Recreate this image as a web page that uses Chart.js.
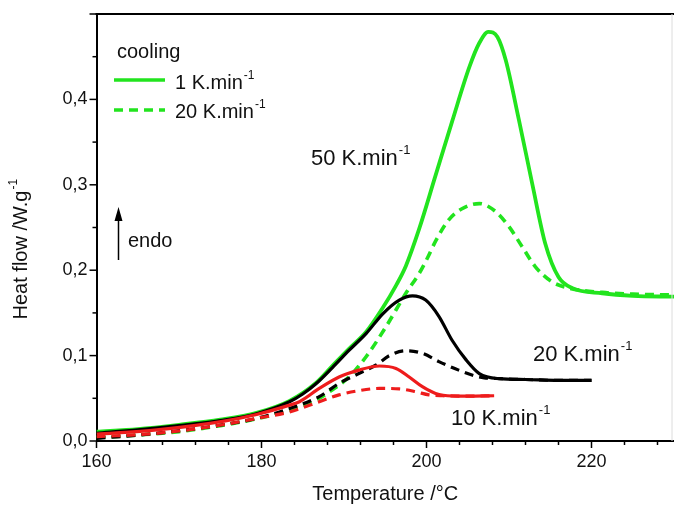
<!DOCTYPE html>
<html>
<head>
<meta charset="utf-8">
<script src="https://cdn.jsdelivr.net/npm/chart.js@4.4.0/dist/chart.umd.min.js"></script>
<style>
  html, body { margin: 0; padding: 0; background: #fff; }
  #dsc-chart { display: block; }
</style>
</head>
<body>
<canvas id="dsc-chart" width="674" height="506"></canvas>
<script>
const FONT = "'Liberation Sans', Arial, sans-serif";
const GREEN = "#22e41e";
const RED = "#ee1c1c";
const BLACK = "#000";

// 50 K/min heating (green), after 1 K/min cooling (solid) and 20 K/min cooling (dashed)
const tempGreenSolid = [160, 165, 170, 175, 179.4, 183.4, 186.6, 188.6, 190.6, 192.7, 194.7, 196.3, 197.5, 199.1, 201.1, 203.1, 205.2, 206.4, 207.5, 208.6, 209.6, 211.2, 212.8, 214.4, 216.0, 217.7, 221.3, 225, 230];
const heatGreenSolid = [0.011, 0.014, 0.019, 0.025, 0.033, 0.047, 0.068, 0.088, 0.108, 0.128, 0.156, 0.182, 0.205, 0.248, 0.311, 0.374, 0.438, 0.466, 0.479, 0.473, 0.446, 0.376, 0.302, 0.231, 0.192, 0.179, 0.173, 0.170, 0.169];

const tempGreenDashed = [160, 165, 170, 175, 179.4, 183.4, 186.6, 188.6, 190.6, 192.7, 195.1, 197.5, 199.1, 200.1, 201.1, 202.7, 204.3, 206.4, 208.4, 210.0, 211.6, 213.2, 215.2, 217.3, 221.3, 225, 230];
const heatGreenDashed = [0.004, 0.007, 0.011, 0.018, 0.026, 0.036, 0.048, 0.060, 0.075, 0.099, 0.134, 0.173, 0.196, 0.214, 0.234, 0.259, 0.272, 0.278, 0.2685, 0.251, 0.2275, 0.204, 0.1865, 0.179, 0.174, 0.172, 0.171];

// 20 K/min heating (black)
const tempBlackSolid = [160, 165, 170, 175, 179.4, 183.4, 185, 186.6, 188.6, 190.6, 192.7, 194.7, 196.7, 198.3, 199.9, 201.5, 203.1, 204.8, 206.4, 208.8, 212, 216, 220];
const heatBlackSolid = [0.009, 0.013, 0.018, 0.024, 0.032, 0.046, 0.055, 0.067, 0.086, 0.106, 0.126, 0.149, 0.165, 0.170, 0.165, 0.146, 0.118, 0.095, 0.079, 0.073, 0.072, 0.071, 0.071];

const tempBlackDashed = [160, 167.3, 175.3, 179.4, 183.4, 187.0, 189.4, 191.8, 193.9, 195.5, 197.5, 199.5, 201.5, 203.9, 205.6, 207, 209, 212, 216, 220];
const heatBlackDashed = [0.003, 0.009, 0.019, 0.0265, 0.038, 0.052, 0.0675, 0.079, 0.089, 0.100, 0.1057, 0.1027, 0.093, 0.083, 0.077, 0.074, 0.073, 0.072, 0.071, 0.071];

// 10 K/min heating (red)
const tempRedSolid = [160, 167.3, 175.3, 179.4, 183.4, 184.6, 187.0, 189.4, 191.8, 194.3, 196.3, 197.9, 199.5, 201.1, 203.1, 205, 208.2];
const heatRedSolid = [0.008, 0.013, 0.023, 0.031, 0.042, 0.046, 0.0616, 0.075, 0.083, 0.0878, 0.085, 0.075, 0.0636, 0.0557, 0.0527, 0.0525, 0.053];

const tempRedDashed = [160, 167.3, 175.3, 179.4, 183.4, 187.0, 189.4, 191.8, 194.3, 196.7, 198.7, 200.3, 202, 205, 208.2];
const heatRedDashed = [0.005, 0.009, 0.019, 0.0265, 0.034, 0.046, 0.054, 0.059, 0.0616, 0.061, 0.0577, 0.054, 0.053, 0.0525, 0.053];

const xTickLabels = [160, 180, 200, 220];
const yTickLabels = ["0,0", "0,1", "0,2", "0,3", "0,4"];

function toPoints(temps, heats){
    return temps.map((t, i) => ({x: t, y: heats[i]}));
};

function makeDataset(label, temps, heats, color, width, dashed, order){
    return {
        label: label,
        data: toPoints(temps, heats),
        borderColor: color,
        backgroundColor: color,
        borderWidth: width,
        borderDash: dashed ? [9, 6] : [],
        pointRadius: 0,
        fill: false,
        cubicInterpolationMode: 'monotone',
        order: order,
    };
};

// superscript "-1" after a label
function drawRate(ctx, base, x, y, size){
    ctx.font = `${size}px ${FONT}`;
    ctx.fillText(base, x, y);
    const w = ctx.measureText(base).width;
    ctx.font = `${Math.round(size * 0.6)}px ${FONT}`;
    ctx.fillText("-1", x + w + 1, y - size * 0.5);
};

const decorPlugin = {
    id: 'dscDecor',
    afterDraw(chart){
        const ctx = chart.ctx;
        const xs = chart.scales.x;
        const ys = chart.scales.y;
        const area = chart.chartArea;
        ctx.save();
        ctx.strokeStyle = BLACK;
        ctx.fillStyle = "#111";

        // top frame and faint right edge
        ctx.lineWidth = 2;
        ctx.beginPath();
        ctx.moveTo(area.left - 1, area.top);
        ctx.lineTo(area.right, area.top);
        ctx.stroke();
        ctx.lineWidth = 1;
        ctx.strokeStyle = "#dcdcdc";
        ctx.beginPath();
        ctx.moveTo(area.right - 2, area.top);
        ctx.lineTo(area.right - 2, area.bottom);
        ctx.stroke();

        // outward ticks, major and minor
        ctx.strokeStyle = BLACK;
        ctx.lineWidth = 1.5;
        for (let v = 160; v <= 230; v += 4){
            const px = xs.getPixelForValue(v);
            const len = (v - 160) % 20 === 0 ? 7 : 4;
            ctx.beginPath();
            ctx.moveTo(px, area.bottom);
            ctx.lineTo(px, area.bottom + len);
            ctx.stroke();
        }
        for (let i = 0; i <= 10; i++){
            const py = ys.getPixelForValue(i * 0.05);
            const len = i % 2 === 0 ? 7 : 4;
            ctx.beginPath();
            ctx.moveTo(area.left, py);
            ctx.lineTo(area.left - len, py);
            ctx.stroke();
        }

        // y axis title
        ctx.save();
        ctx.translate(27, 250);
        ctx.rotate(-Math.PI / 2);
        ctx.font = `20px ${FONT}`;
        const yTitle = "Heat flow /W.g";
        const tw = ctx.measureText(yTitle).width + 10;
        drawRate(ctx, yTitle, -tw / 2, 0, 20);
        ctx.restore();

        // legend
        ctx.font = `20px ${FONT}`;
        ctx.fillText("cooling", 117, 58);
        ctx.strokeStyle = GREEN;
        ctx.lineWidth = 3.6;
        ctx.beginPath();
        ctx.moveTo(114, 80);
        ctx.lineTo(165, 80);
        ctx.stroke();
        ctx.setLineDash([9, 6]);
        ctx.beginPath();
        ctx.moveTo(114, 110);
        ctx.lineTo(165, 110);
        ctx.stroke();
        ctx.setLineDash([]);
        drawRate(ctx, "1 K.min", 175, 89, 20);
        drawRate(ctx, "20 K.min", 175, 118, 20);

        // curve labels
        drawRate(ctx, "50 K.min", 311, 165, 22);
        drawRate(ctx, "20 K.min", 533, 361, 22);
        drawRate(ctx, "10 K.min", 451, 425, 22);

        // endo arrow
        ctx.strokeStyle = BLACK;
        ctx.fillStyle = BLACK;
        ctx.lineWidth = 1.5;
        ctx.beginPath();
        ctx.moveTo(118.5, 260);
        ctx.lineTo(118.5, 218);
        ctx.stroke();
        ctx.beginPath();
        ctx.moveTo(118.5, 207);
        ctx.lineTo(114.5, 221);
        ctx.lineTo(122.5, 221);
        ctx.closePath();
        ctx.fill();
        ctx.fillStyle = "#111";
        ctx.font = `20px ${FONT}`;
        ctx.fillText("endo", 128, 247);

        ctx.restore();
    }
};

const dscConfig = {
    type: 'line',
    data: {
        datasets: [
            makeDataset("10 K/min, 1 K/min cooling", tempRedSolid, heatRedSolid, RED, 3.2, false, 1),
            makeDataset("10 K/min, 20 K/min cooling", tempRedDashed, heatRedDashed, RED, 3.2, true, 2),
            makeDataset("20 K/min, 1 K/min cooling", tempBlackSolid, heatBlackSolid, BLACK, 3.2, false, 3),
            makeDataset("20 K/min, 20 K/min cooling", tempBlackDashed, heatBlackDashed, BLACK, 3.2, true, 4),
            makeDataset("50 K/min, 1 K/min cooling", tempGreenSolid, heatGreenSolid, GREEN, 3.8, false, 5),
            makeDataset("50 K/min, 20 K/min cooling", tempGreenDashed, heatGreenDashed, GREEN, 3.6, true, 6),
        ]
    },
    options: {
        responsive: false,
        animation: false,
        devicePixelRatio: 1,
        layout: {
            padding: {top: 14, right: 0, bottom: 0, left: 0}
        },
        scales: {
            x: {
                type: 'linear',
                min: 160,
                max: 230,
                afterFit: (scale) => {
                    scale.height = 65;
                    scale.paddingLeft = 0;
                    scale.paddingRight = 0;
                },
                ticks: {
                    stepSize: 10,
                    autoSkip: false,
                    maxRotation: 0,
                    padding: 10,
                    color: "#111",
                    font: {family: FONT, size: 18},
                    callback: (value) => xTickLabels.includes(value) ? String(value) : ''
                },
                grid: {
                    display: true,
                    drawOnChartArea: false,
                    drawTicks: false,
                },
                border: {
                    display: true,
                    color: BLACK,
                    width: 2
                },
                title: {
                    display: true,
                    text: "Temperature /°C",
                    color: "#111",
                    font: {family: FONT, size: 20},
                    padding: {top: 0, bottom: 0}
                }
            },
            y: {
                min: 0,
                max: 0.5,
                afterFit: (scale) => {
                    scale.width = 96.5;
                    scale.paddingTop = 0;
                    scale.paddingBottom = 0;
                },
                ticks: {
                    stepSize: 0.1,
                    autoSkip: false,
                    padding: 9,
                    color: "#111",
                    font: {family: FONT, size: 18},
                    callback: (value, index) => yTickLabels[index] ?? ''
                },
                grid: {
                    display: true,
                    drawOnChartArea: false,
                    drawTicks: false,
                },
                border: {
                    display: true,
                    color: BLACK,
                    width: 2
                }
            }
        },
        plugins: {
            legend: {display: false},
            tooltip: {enabled: false}
        }
    },
    plugins: [decorPlugin]
};

const dscChart = new Chart(document.querySelector("#dsc-chart"), dscConfig);
</script>
</body>
</html>
